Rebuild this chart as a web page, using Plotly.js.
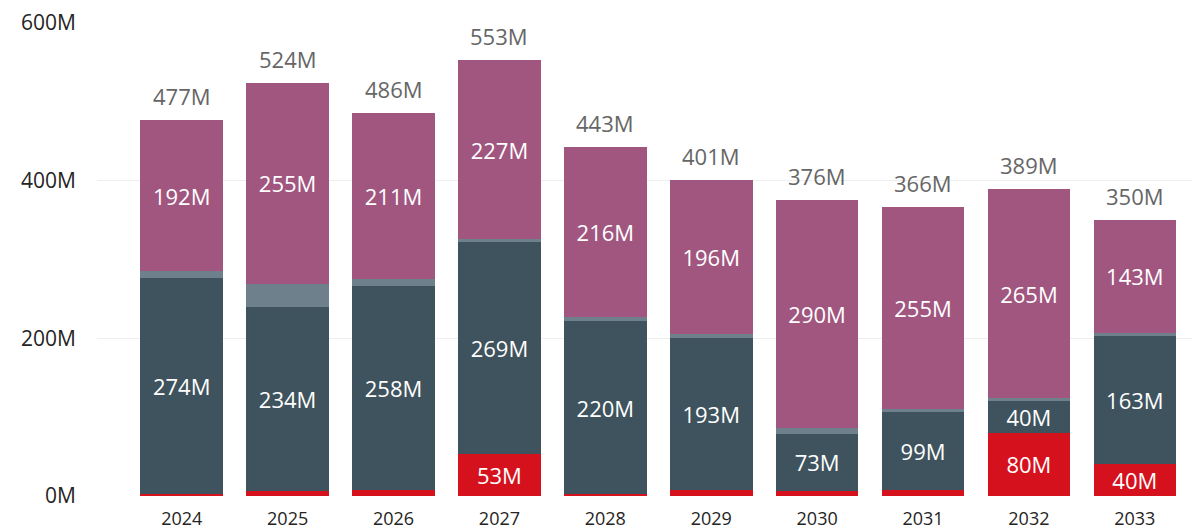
<!DOCTYPE html>
<html>
<head>
<meta charset="utf-8">
<script src="https://cdn.plot.ly/plotly-3.0.1.min.js"></script>
<style>html,body{margin:0;padding:0;background:#fff;}#chart{width:1192px;height:529px;}</style>
</head>
<body>
<div id="chart"></div>
<script>
const years = ['2024','2025','2026','2027','2028','2029','2030','2031','2032','2033'];
const redVals    = [2, 6, 8, 53, 2, 7, 6, 7, 80, 40];
const darkVals   = [274, 234, 258, 269, 220, 193, 73, 99, 40, 163];
const greyVals   = [9, 29, 9, 4, 5, 5, 7, 5, 4, 4];
const purpleVals = [192, 255, 211, 227, 216, 196, 290, 255, 265, 143];
const totals     = [477, 524, 486, 553, 443, 401, 376, 366, 389, 350];
const yTickVals  = [0, 200, 400, 600];
const yTickText  = ['0M', '200M', '400M', '600M'];

const FONT = '"Open Sans", "Segoe UI", sans-serif';
const lbl = arr => arr.map(v => v >= 30 ? v + 'M' : '');

function seg(name, vals, color) {
  return {
    type: 'bar', name: name, x: years, y: vals,
    marker: {color: color, line: {width: 0}},
    text: lbl(vals), textposition: 'inside', insidetextanchor: 'middle',
    textangle: 0, constraintext: 'none',
    insidetextfont: {family: FONT, size: 22, color: '#ffffff'},
    hoverinfo: 'skip'
  };
}

const data = [
  seg('Red', redVals, '#D6111E'),
  seg('Dark', darkVals, '#3E535D'),
  seg('Grey', greyVals, '#6D808C'),
  seg('Purple', purpleVals, '#A15680')
];

const annotations = totals.map((t, i) => ({
  x: i, y: t, xref: 'x', yref: 'y',
  text: t + 'M', showarrow: false,
  xanchor: 'center', yanchor: 'middle', yshift: 24,
  font: {family: FONT, size: 22, color: '#666666'}
}));

const layout = {
  width: 1192, height: 529,
  margin: {l: 97, r: 0, t: 23, b: 33},
  barmode: 'stack', bargap: 0.22,
  showlegend: false,
  paper_bgcolor: '#ffffff', plot_bgcolor: '#ffffff',
  xaxis: {
    type: 'category', range: [-0.8, 9.54],
    showgrid: false, zeroline: false, showline: false, ticks: '',
    tickfont: {family: FONT, size: 18, color: '#252423'},
    ticklabelstandoff: 10
  },
  yaxis: {
    range: [0, 600], tickmode: 'array', tickvals: yTickVals, ticktext: yTickText,
    showgrid: true, gridcolor: '#eeeeee', gridwidth: 1,
    zeroline: false, showline: false, ticks: '',
    tickfont: {family: FONT, size: 21, color: '#252423'},
    ticklabelstandoff: 20
  },
  annotations: annotations
};

Plotly.newPlot('chart', data, layout, {displayModeBar: false, staticPlot: true});
</script>
</body>
</html>
